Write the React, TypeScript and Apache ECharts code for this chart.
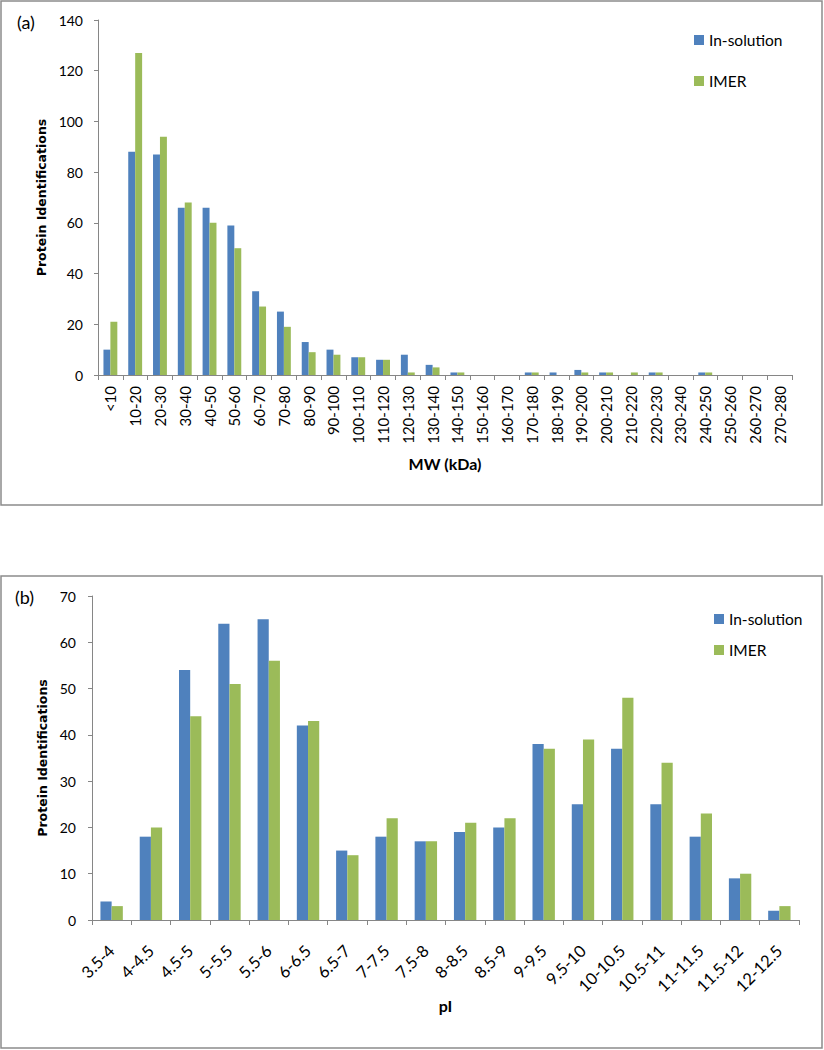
import React, { useEffect, useRef } from "react";
import * as echarts from "echarts";

const mwCategories = ["<10", "10-20", "20-30", "30-40", "40-50", "50-60", "60-70", "70-80", "80-90", "90-100", "100-110", "110-120", "120-130", "130-140", "140-150", "150-160", "160-170", "170-180", "180-190", "190-200", "200-210", "210-220", "220-230", "230-240", "240-250", "250-260", "260-270", "270-280"];
const mwInSolution = [10, 88, 87, 66, 66, 59, 33, 25, 13, 10, 7, 6, 8, 4, 1, 0, 0, 1, 1, 2, 1, 0, 1, 0, 1, 0, 0, 0];
const mwIMER = [21, 127, 94, 68, 60, 50, 27, 19, 9, 8, 7, 6, 1, 3, 1, 0, 0, 1, 0, 1, 1, 1, 1, 0, 1, 0, 0, 0];

const piCategories = ["3.5-4", "4-4.5", "4.5-5", "5-5.5", "5.5-6", "6-6.5", "6.5-7", "7-7.5", "7.5-8", "8-8.5", "8.5-9", "9-9.5", "9.5-10", "10-10.5", "10.5-11", "11-11.5", "11.5-12", "12-12.5"];
const piInSolution = [4, 18, 54, 64, 65, 42, 15, 18, 17, 19, 20, 38, 25, 37, 25, 18, 9, 2];
const piIMER = [3, 20, 44, 51, 56, 43, 14, 22, 17, 21, 22, 37, 39, 48, 34, 23, 10, 3];

const seriesNames = ["In-solution", "IMER"];
const BLUE = "#4F81BD";
const GREEN = "#9BBB59";
const AXIS = "#868686";
const FONT = "Lato";

export default function App() {
  const ref = useRef<HTMLDivElement>(null);
  useEffect(() => {
    document.body.style.margin = "0";
    const chart = echarts.init(ref.current!, null, { renderer: "svg" });
    const axisLine = { show: true, lineStyle: { color: AXIS, width: 1 } };
    const yTitle = {
      fontFamily: "DejaVu Sans",
      fontWeight: "bold",
      fontSize: 12.5,
      color: "#000",
    };
    chart.setOption({
      animation: false,
      textStyle: { fontFamily: FONT },
      color: [BLUE, GREEN],
      graphic: [
        { type: "rect", shape: { x: 1, y: 1, width: 821, height: 504 }, style: { fill: "none", stroke: "#8c8c8c", lineWidth: 1.5 }, silent: true },
        { type: "rect", shape: { x: 1, y: 576, width: 821, height: 472 }, style: { fill: "none", stroke: "#8c8c8c", lineWidth: 1.5 }, silent: true },
        { type: "text", x: 17, y: 22, style: { text: "(a)", fontFamily: FONT, fontSize: 18, fill: "#000", verticalAlign: "middle" } },
        { type: "text", x: 15, y: 597, style: { text: "(b)", fontFamily: FONT, fontSize: 18, fill: "#000", verticalAlign: "middle" } },
      ],
      legend: [
        {
          data: seriesNames,
          orient: "vertical",
          left: 689,
          top: 27,
          itemWidth: 10,
          itemHeight: 10,
          itemGap: 25,
          icon: "rect",
          textStyle: { fontFamily: FONT, fontSize: 15.5, color: "#000", lineHeight: 16 },
          selectedMode: false,
        },
        {
          data: seriesNames,
          orient: "vertical",
          left: 709,
          top: 606,
          itemWidth: 10,
          itemHeight: 10,
          itemGap: 15,
          icon: "rect",
          textStyle: { fontFamily: FONT, fontSize: 15.5, color: "#000", lineHeight: 16 },
          selectedMode: false,
        },
      ],
      grid: [
        { left: 98, right: 32, top: 20, bottom: 675 },
        { left: 92, right: 25, top: 596, bottom: 130 },
      ],
      xAxis: [
        {
          type: "category",
          gridIndex: 0,
          data: mwCategories,
          axisLine,
          axisTick: { show: true, length: 5, lineStyle: { color: AXIS } },
          axisLabel: { rotate: 90, margin: 11, fontSize: 15, fontFamily: FONT, color: "#000", interval: 0 },
          name: "MW (kDa)",
          nameLocation: "middle",
          nameGap: 80,
          nameTextStyle: { fontFamily: FONT, fontWeight: "bold", fontSize: 16, color: "#000" },
        },
        {
          type: "category",
          gridIndex: 1,
          data: piCategories,
          axisLine,
          axisTick: { show: true, length: 5, lineStyle: { color: AXIS } },
          axisLabel: { rotate: 45, margin: 28, fontSize: 16.5, fontFamily: FONT, color: "#000", interval: 0 },
          name: "pI",
          nameLocation: "middle",
          nameGap: 76,
          nameTextStyle: { fontFamily: FONT, fontWeight: "bold", fontSize: 16, color: "#000" },
        },
      ],
      yAxis: [
        {
          type: "value",
          gridIndex: 0,
          min: 0,
          max: 140,
          interval: 20,
          axisLine,
          axisTick: { show: true, length: 4, lineStyle: { color: AXIS } },
          splitLine: { show: false },
          axisLabel: { margin: 15, fontSize: 14, fontFamily: FONT, color: "#000" },
          name: "Protein Identifications",
          nameLocation: "middle",
          nameGap: 49,
          nameTextStyle: yTitle,
        },
        {
          type: "value",
          gridIndex: 1,
          min: 0,
          max: 70,
          interval: 10,
          axisLine,
          axisTick: { show: true, length: 4, lineStyle: { color: AXIS } },
          splitLine: { show: false },
          axisLabel: { margin: 16, fontSize: 14, fontFamily: FONT, color: "#000" },
          name: "Protein Identifications",
          nameLocation: "middle",
          nameGap: 43,
          nameTextStyle: yTitle,
        },
      ],
      series: [
        { name: seriesNames[0], type: "bar", xAxisIndex: 0, yAxisIndex: 0, data: mwInSolution, barGap: "0%", barCategoryGap: "44%", itemStyle: { color: BLUE } },
        { name: seriesNames[1], type: "bar", xAxisIndex: 0, yAxisIndex: 0, data: mwIMER, barGap: "0%", barCategoryGap: "44%", itemStyle: { color: GREEN } },
        { name: seriesNames[0], type: "bar", xAxisIndex: 1, yAxisIndex: 1, data: piInSolution, barGap: "0%", barCategoryGap: "43%", itemStyle: { color: BLUE } },
        { name: seriesNames[1], type: "bar", xAxisIndex: 1, yAxisIndex: 1, data: piIMER, barGap: "0%", barCategoryGap: "43%", itemStyle: { color: GREEN } },
      ],
    });
    return () => chart.dispose();
  }, []);
  return <div ref={ref} style={{ width: 824, height: 1050 }} />;
}
